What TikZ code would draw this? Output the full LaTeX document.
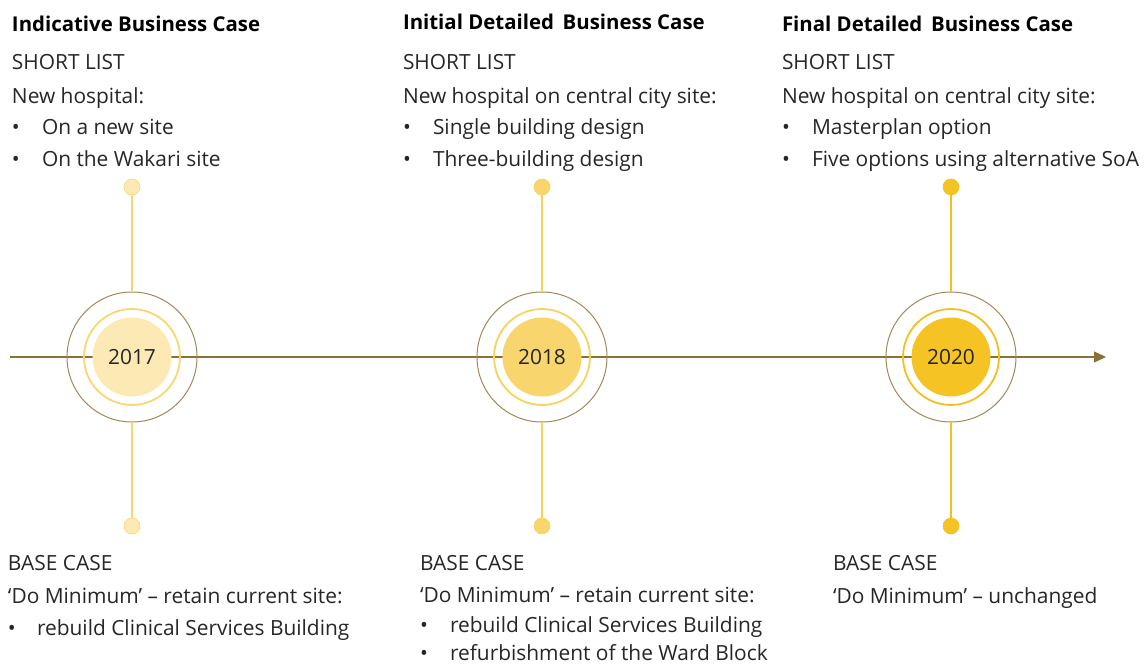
\documentclass[tikz,border=0pt]{standalone}
\usepackage{fontspec}
\setmainfont{Open Sans}
\usetikzlibrary{arrows.meta}
\definecolor{axis}{HTML}{8A7138}
\definecolor{outer}{HTML}{A08B58}
\definecolor{txt}{HTML}{262626}
\definecolor{yA}{HTML}{FCE9B4}
\definecolor{yAs}{HTML}{FAD76E}
\definecolor{yB}{HTML}{F8D66D}
\definecolor{yBs}{HTML}{F7D35E}
\definecolor{yC}{HTML}{F5C324}
\definecolor{yCs}{HTML}{F5C01E}
\tikzset{
  x=1pt, y=-1pt,
  every node/.style={inner sep=0pt, outer sep=0pt},
  body/.style={anchor=base west, text=txt, font=\fontsize{20.9}{25}\selectfont},
  title/.style={anchor=base west, text=black, font=\fontsize{20.4}{24}\selectfont\bfseries},
  bul/.style={anchor=base west, text=txt, font=\fontsize{20.9}{25}\selectfont},
  outerc/.style={circle, draw=outer, line width=1pt, minimum size=130pt},
  ringc/.style={circle, draw=#1, line width=1.8pt, minimum size=96pt},
  yearc/.style={circle, fill=#1, minimum size=79pt, text=txt, font=\fontsize{20.9}{25}\selectfont},
  dotc/.style={circle, fill=#1, minimum size=16pt},
  stem/.style={draw=#1, line width=1.2pt},
}
\begin{document}
\begin{tikzpicture}
\useasboundingbox (0,0) rectangle (1145,666);
% axis
\coordinate (axs) at (10,357);
\coordinate (axe) at (1106,357);
\draw[axis, line width=1.3pt, -{Triangle[length=12pt,width=11pt]}] (axs) -- (axe);
% circles
\foreach \n/\x/\f/\s/\y in {a/132/yA/yAs/2017, b/542/yB/yBs/2018, c/951/yC/yCs/2020}{
  \node[outerc] (o\n) at (\x,357) {};
  \node[ringc=\s] (r\n) at (\x,357) {};
  \node[yearc=\f] (y\n) at (\x,357) {\y};
  \node[dotc=\f, draw=\s, line width=0.6pt] (t\n) at (\x,187) {};
  \node[dotc=\f, draw=\s, line width=0.6pt] (d\n) at (\x,526) {};
  \draw[stem=\s] (t\n) -- (o\n);
  \draw[stem=\s] (o\n) -- (d\n);
}
% column 1 top
\node[title] (h1) at (12,32) {Indicative Business Case};
\node[body] (s1) at (12,70) {SHORT LIST};
\node[body] (n1) at (12,103) {New hospital:};
\node[bul] (b11) at (12,135) {•};
\node[body] (l11) at (42,135) {On a new site};
\node[bul] (b12) at (12,166) {•};
\node[body] (l12) at (42,166) {On the Wakari site};
% column 2 top
\node[title] (h2) at (403,30) {Initial Detailed\, Business Case};
\node[body] (s2) at (403,70) {SHORT LIST};
\node[body] (n2) at (403,103) {New hospital on central city site:};
\node[bul] (b21) at (403,135) {•};
\node[body] (l21) at (433,135) {Single building design};
\node[bul] (b22) at (403,166) {•};
\node[body] (l22) at (433,166) {Three-building design};
% column 3 top
\node[title] (h3) at (782,32) {Final Detailed\, Business Case};
\node[body] (s3) at (782,70) {SHORT LIST};
\node[body] (n3) at (782,103) {New hospital on central city site:};
\node[bul] (b31) at (782,135) {•};
\node[body] (l31) at (812,135) {Masterplan option};
\node[bul] (b32) at (782,166) {•};
\node[body] (l32) at (812,166) {Five options using alternative SoA};
% column 1 bottom
\node[body] (bc1) at (8,570) {BASE CASE};
\node[body] (dm1) at (8,603) {‘Do Minimum’ – retain current site:};
\node[bul] (bb11) at (8,635) {•};
\node[body] (bl11) at (37,635) {rebuild Clinical Services Building};
% column 2 bottom
\node[body] (bc2) at (420,570) {BASE CASE};
\node[body] (dm2) at (420,602) {‘Do Minimum’ – retain current site:};
\node[bul] (bb21) at (420,632) {•};
\node[body] (bl21) at (450,632) {rebuild Clinical Services Building};
\node[bul] (bb22) at (420,660) {•};
\node[body] (bl22) at (450,660) {refurbishment of the Ward Block};
% column 3 bottom
\node[body] (bc3) at (833,570) {BASE CASE};
\node[body] (dm3) at (833,603) {‘Do Minimum’ – unchanged};
\end{tikzpicture}
\end{document}
